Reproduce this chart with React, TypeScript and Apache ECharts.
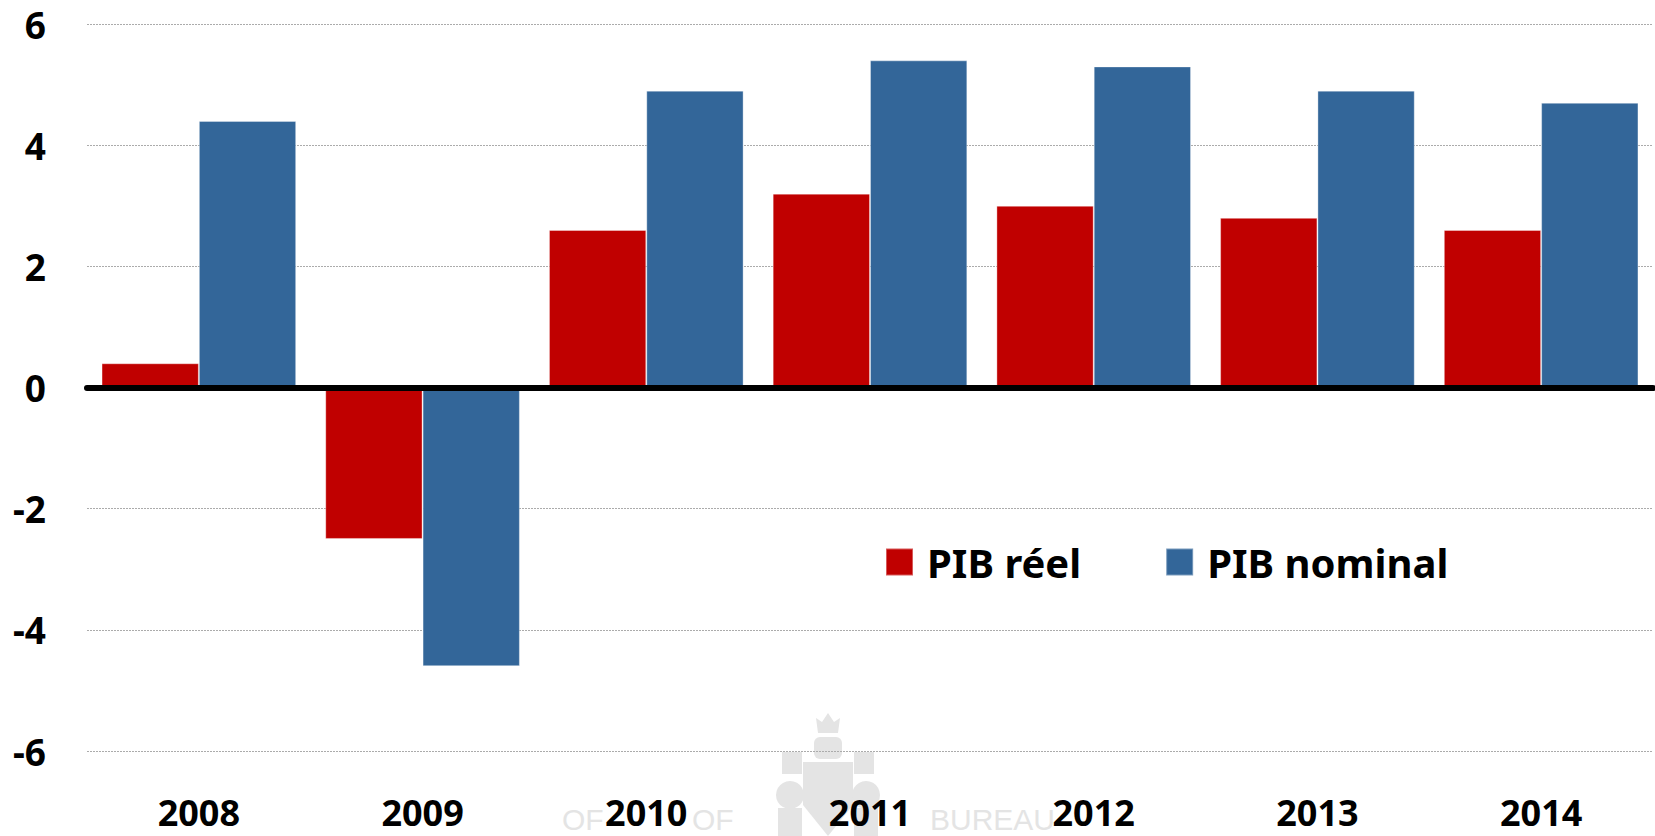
import React, { useEffect, useRef } from "react";
import * as echarts from "echarts";

const years = ["2008", "2009", "2010", "2011", "2012", "2013", "2014"];
const realGDP = [0.4, -2.5, 2.6, 3.2, 3.0, 2.8, 2.6];
const nominalGDP = [4.4, -4.6, 4.9, 5.4, 5.3, 4.9, 4.7];
const seriesNames = ["PIB réel", "PIB nominal"];
const yMin = -6;
const yMax = 6;
const yStep = 2;

const RED = "#C00000";
const BLUE = "#336699";
const FONT = "'Noto Sans', sans-serif";
const WM = "#e4e4e4";
const WM_FONT = "30px 'Liberation Sans', Arial, sans-serif";

export default function App() {
  const ref = useRef<HTMLDivElement>(null);
  useEffect(() => {
    if (!ref.current) return;
    const chart = echarts.init(ref.current, null, { renderer: "svg" });
    const labelStyle = { fontFamily: FONT, fontWeight: "bold" as const, fontSize: 37, color: "#000" };
    chart.setOption({
      animation: false,
      backgroundColor: "#fff",
      grid: { left: 87, right: 2, top: 24, bottom: 85, containLabel: false },
      legend: {
        data: seriesNames,
        left: 885,
        top: 542,
        padding: 0,
        itemWidth: 27,
        itemHeight: 27,
        itemGap: 84,
        icon: "rect",
        textStyle: { fontFamily: FONT, fontWeight: "bold", fontSize: 40, color: "#000", padding: [0, 0, 0, 9] },
      },
      xAxis: [
        {
          type: "category",
          data: years,
          position: "bottom",
          axisLine: { show: false, onZero: false },
          axisTick: { show: false },
          axisLabel: { ...labelStyle, fontSize: 36, margin: 61, verticalAlign: "middle", lineHeight: 30 },
          splitLine: { show: false },
        },
        {
          type: "category",
          data: years,
          position: "top",
          z: 10,
          axisLine: { show: true, onZero: true, lineStyle: { color: "#000", width: 6 } },
          axisTick: { show: false },
          axisLabel: { show: false },
          splitLine: { show: false },
        },
      ],
      yAxis: {
        type: "value",
        min: yMin,
        max: yMax,
        interval: yStep,
        axisLine: { show: false },
        axisTick: { show: false },
        axisLabel: { ...labelStyle, margin: 41 },
        splitLine: { show: true, lineStyle: { color: "#ababab", type: [2, 1], width: 1 } },
      },
      graphic: [
        { type: "text", z: -10, left: 562, top: 804, style: { text: "OF", fill: WM, font: WM_FONT } },
        { type: "text", z: -10, left: 692, top: 804, style: { text: "OF", fill: WM, font: WM_FONT } },
        { type: "text", z: -10, left: 930, top: 804, style: { text: "BUREAU", fill: WM, font: WM_FONT } },
        {
          type: "group",
          z: -10,
          children: [
            { type: "polygon", z: -10, shape: { points: [[818, 733], [816, 718], [822, 722], [828, 713], [834, 722], [840, 718], [838, 733]] }, style: { fill: WM } },
            { type: "rect", z: -10, shape: { x: 814, y: 737, width: 28, height: 22, r: 6 }, style: { fill: WM } },
            { type: "rect", z: -10, shape: { x: 782, y: 752, width: 20, height: 22 }, style: { fill: WM } },
            { type: "rect", z: -10, shape: { x: 854, y: 752, width: 20, height: 22 }, style: { fill: WM } },
            { type: "polygon", z: -10, shape: { points: [[803, 762], [853, 762], [853, 805], [828, 836], [803, 805]] }, style: { fill: WM } },
            { type: "circle", z: -10, shape: { cx: 790, cy: 795, r: 14 }, style: { fill: WM } },
            { type: "circle", z: -10, shape: { cx: 866, cy: 795, r: 14 }, style: { fill: WM } },
            { type: "rect", z: -10, shape: { x: 778, y: 808, width: 24, height: 28 }, style: { fill: WM } },
            { type: "rect", z: -10, shape: { x: 854, y: 808, width: 24, height: 28 }, style: { fill: WM } },
          ],
        },
      ],
      series: [
        {
          name: seriesNames[0],
          type: "bar",
          data: realGDP,
          barGap: "0%",
          barCategoryGap: "13%",
          itemStyle: { color: RED, borderColor: "rgba(255,255,255,0.35)", borderWidth: 1 },
        },
        {
          name: seriesNames[1],
          type: "bar",
          data: nominalGDP,
          barGap: "0%",
          barCategoryGap: "13%",
          itemStyle: { color: BLUE, borderColor: "rgba(255,255,255,0.35)", borderWidth: 1 },
        },
      ],
    });
    return () => chart.dispose();
  }, []);
  return <div ref={ref} style={{ position: "fixed", left: 0, top: 0, width: 1655, height: 836 }} />;
}
